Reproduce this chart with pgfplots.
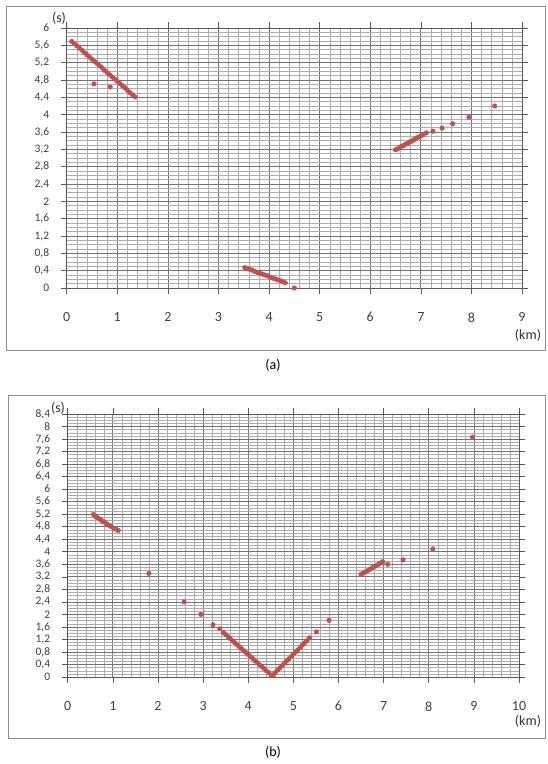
\documentclass[border=0pt]{standalone}
\usepackage{pgfplots}
\pgfplotsset{compat=1.18}
\usepackage{fontspec}
\setmainfont{Carlito}
\definecolor{dotred}{RGB}{192,80,77}
\definecolor{framegray}{RGB}{140,140,140}

\pgfplotsset{
  scangrid/.style={
    scale only axis, anchor=south west,
    axis line style={black!65, line width=0.8pt},
    grid=both,
    major grid style={black!55, line width=0.7pt},
    minor grid style={black!32, line width=0.45pt},
    minor x tick num=4, minor y tick num=3,
    tick align=outside, major tick length=6pt, minor tick length=0pt,
    tick style={black!65, line width=0.6pt},
    /pgf/number format/assume math mode=true,
    /pgf/number format/use comma,
    /pgf/number format/fixed,
    /pgf/number format/precision=1,
    ticklabel style={text=black!75},
    xticklabel style={font=\fontsize{14}{14}\selectfont, yshift=-15pt},
    yticklabel style={font=\fontsize{11.5}{11.5}\selectfont, xshift=-8pt},
  },
  dots/.style={only marks, mark=*, mark size=2.3pt, color=dotred},
}

\begin{document}
\begin{tikzpicture}
\useasboundingbox (0,0) rectangle (547pt,-764pt);
\fill[white] (0,0) rectangle (547pt,-764pt);
% frames
\draw[framegray, line width=1pt] (6pt,-6pt) rectangle (545pt,-350pt);
\draw[framegray, line width=1pt] (8pt,-395pt) rectangle (545pt,-738pt);

% ---- (a)
\begin{axis}[scangrid,
  at={(66.7pt,-288pt)}, width=455.3pt, height=260pt,
  xmin=0, xmax=9, ymin=0, ymax=6,
  xtick={0,1,...,9}, ytick={0,0.4,...,6.01},
]
\addplot[dots] coordinates {
(0.10,5.69) (0.15,5.64) (0.20,5.59) (0.25,5.54) (0.30,5.49) (0.35,5.43)
(0.40,5.38) (0.45,5.33) (0.50,5.28) (0.55,5.23) (0.60,5.18) (0.65,5.13)
(0.70,5.08) (0.75,5.02) (0.80,4.97) (0.85,4.92) (0.90,4.87) (0.95,4.82)
(1.00,4.77) (1.05,4.72) (1.10,4.67) (1.15,4.62) (1.20,4.56) (1.25,4.51)
(1.30,4.46) (1.35,4.41) (0.54,4.71) (0.86,4.64)
};
\addplot[dots] coordinates {
(3.52,0.47) (3.57,0.45) (3.62,0.43) (3.67,0.41) (3.72,0.38) (3.77,0.36)
(3.82,0.34) (3.87,0.32) (3.92,0.30) (3.97,0.28) (4.02,0.25) (4.07,0.23)
(4.12,0.21) (4.17,0.19) (4.22,0.17) (4.27,0.15) (4.32,0.12) (4.50,0.00)
};
\addplot[dots] coordinates {
(6.50,3.19) (6.54,3.21) (6.58,3.24) (6.62,3.27) (6.66,3.29) (6.70,3.32)
(6.74,3.34) (6.78,3.37) (6.82,3.39) (6.86,3.42) (6.90,3.45) (6.95,3.48)
(7.00,3.51) (7.05,3.54) (7.11,3.58) (7.24,3.62) (7.42,3.69) (7.63,3.79)
(7.95,3.94) (8.46,4.20)
};
\end{axis}

% ---- (b)
\begin{axis}[scangrid,
  at={(67.7pt,-677pt)}, width=451.3pt, height=263pt,
  xmin=0, xmax=10, ymin=0, ymax=8.4,
  xtick={0,1,...,10}, ytick={0,0.4,...,8.41},
]
\addplot[dots] coordinates {
(0.57,5.19) (0.62,5.12) (0.67,5.08) (0.72,5.03) (0.77,4.98) (0.82,4.94)
(0.87,4.89) (0.92,4.84) (0.97,4.80) (1.02,4.75) (1.07,4.72) (1.12,4.68)
(1.80,3.31) (2.58,2.40) (2.95,2.00) (3.22,1.67) (3.37,1.54)
(3.45,1.42) (3.50,1.36) (3.55,1.29) (3.60,1.23) (3.65,1.16) (3.70,1.10)
(3.75,1.04) (3.80,0.97) (3.85,0.91) (3.90,0.84) (3.95,0.78) (4.00,0.72)
(4.05,0.65) (4.10,0.59) (4.15,0.52) (4.20,0.46) (4.25,0.39) (4.30,0.33)
(4.35,0.27) (4.40,0.20) (4.45,0.14) (4.51,0.06)
(4.55,0.07) (4.60,0.14) (4.65,0.22) (4.70,0.29) (4.75,0.36) (4.80,0.44)
(4.85,0.51) (4.90,0.58) (4.95,0.65) (5.00,0.73) (5.05,0.80) (5.10,0.87)
(5.15,0.94) (5.20,1.02) (5.25,1.09) (5.30,1.16) (5.36,1.25)
(5.51,1.44) (5.79,1.81)
(6.50,3.28) (6.55,3.32) (6.60,3.36) (6.65,3.40) (6.70,3.44) (6.75,3.49)
(6.80,3.53) (6.85,3.57) (6.90,3.61) (6.95,3.65) (6.98,3.68) (7.09,3.60)
(7.43,3.74) (8.09,4.09) (8.97,7.66)
};
\end{axis}

% axis units and captions
\node[font=\fontsize{14}{14}\selectfont, text=black!80] at (59pt,-18pt) {(s)};
\node[font=\fontsize{14}{14}\selectfont, text=black!80] at (528pt,-335pt) {(km)};
\node[font=\fontsize{14}{14}\selectfont] at (273pt,-365pt) {(a)};
\node[font=\fontsize{14}{14}\selectfont, text=black!80] at (58pt,-408pt) {(s)};
\node[font=\fontsize{14}{14}\selectfont, text=black!80] at (528pt,-721pt) {(km)};
\node[font=\fontsize{14}{14}\selectfont] at (273pt,-752pt) {(b)};
\end{tikzpicture}
\end{document}
